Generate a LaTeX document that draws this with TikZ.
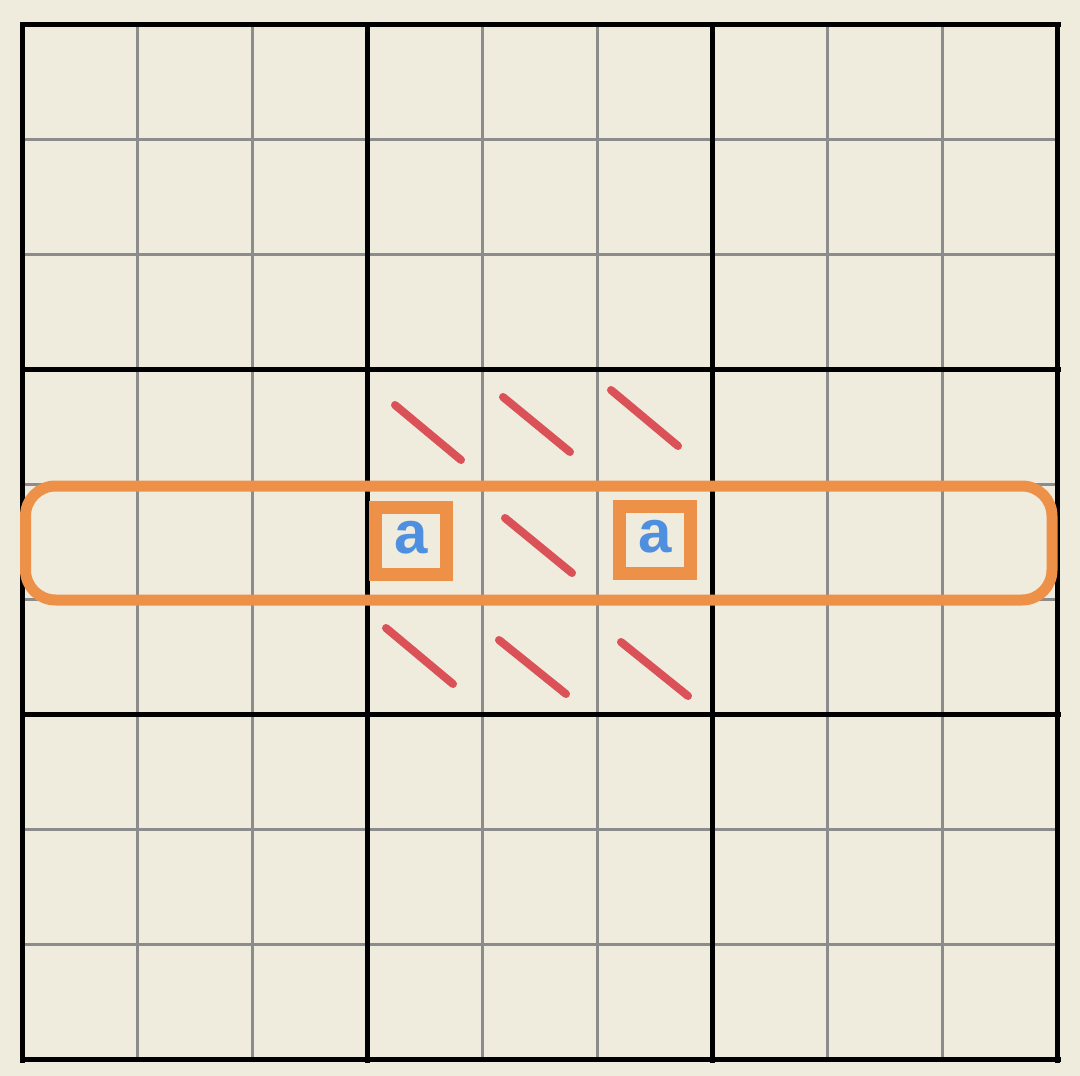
\documentclass[tikz,border=0pt]{standalone}
\usepackage{fontspec}
\setmainfont{Liberation Sans}
\definecolor{paper}{HTML}{EFEBDD}
\definecolor{rowmark}{HTML}{EE9148}
\definecolor{digit}{HTML}{4F8FE0}
\definecolor{strike}{HTML}{DA5157}
\tikzset{
    thin-line/.style = {draw=black!45, line width=3pt},
    thick-line/.style = {draw=black, line width=5pt, line cap=rect},
    row-box/.style = {draw=rowmark, line width=11pt, rounded corners=30pt},
    cell-box/.style = {draw=rowmark, line width=13pt, rectangle, minimum width=70.5pt, minimum height=67pt, inner sep=0pt},
    digit-text/.style = {text=digit, font=\bfseries\fontsize{60}{60}\selectfont},
    strike-line/.style = {draw=strike, line width=8pt, line cap=round},
}
\begin{document}
\begin{tikzpicture}[x=1pt, y=-1pt]
\fill[paper] (0,0) rectangle (1080,1076);
\useasboundingbox (0,0) rectangle (1080,1076);
% thin grid
\foreach \i in {1,2,4,5,7,8} {
    \draw[thin-line] ({22+\i*115.11},24) -- ({22+\i*115.11},1060);
    \draw[thin-line] (22,{24+\i*115.11}) -- (1058,{24+\i*115.11});
}
% block borders
\foreach \i in {0,3,6,9} {
    \draw[thick-line] ({22+\i*115.11},24) -- ({22+\i*115.11},1060);
    \draw[thick-line] (22,{24+\i*115.11}) -- (1058,{24+\i*115.11});
}
% the row
\draw[row-box] (25.5,486) rectangle (1052,600);
\node[cell-box] (boxA) at (411,541) {};
\node[cell-box] (boxB) at (655,540) {};
\node[digit-text] (digitA) at (411,538) {a};
\node[digit-text] (digitB) at (655,537) {a};
% struck out cells
\draw[strike-line] (395,405) -- (461,460);
\draw[strike-line] (503,397) -- (570,452);
\draw[strike-line] (611,390) -- (678,446);
\draw[strike-line] (505,518) -- (572,573);
\draw[strike-line] (386,628) -- (453,684);
\draw[strike-line] (499,640) -- (566,694);
\draw[strike-line] (621,642) -- (688,696);
\end{tikzpicture}
\end{document}
